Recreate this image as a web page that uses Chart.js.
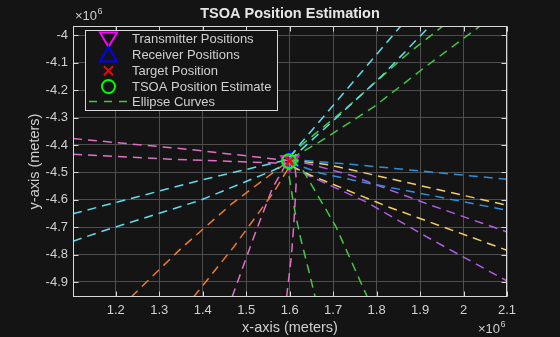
<!DOCTYPE html>
<html>
<head>
<meta charset="utf-8">
<title>TSOA Position Estimation</title>
<script src="https://cdn.jsdelivr.net/npm/chart.js@4/dist/chart.umd.min.js"></script>
<style>
  html, body { margin: 0; padding: 0; background: #141414; }
  canvas { display: block; }
</style>
</head>
<body>
<canvas id="grafico" width="560" height="337"></canvas>
<script>
// axis limits and ticks (meters)
const xLimits = [1.1015e6, 2.1e6];
const yLimits = [-4.955e6, -3.966e6];
const xTicks = [1.2e6, 1.3e6, 1.4e6, 1.5e6, 1.6e6, 1.7e6, 1.8e6, 1.9e6, 2.0e6, 2.1e6];
const yTicks = [-4.9e6, -4.8e6, -4.7e6, -4.6e6, -4.5e6, -4.4e6, -4.3e6, -4.2e6, -4.1e6, -4.0e6];

// transmitter / receiver / target / estimate (meters)
const txX = [1.600e6];
const txY = [-4.459e6];
const rxX = [1.600e6];
const rxY = [-4.461e6];
const targetX = [1.600e6];
const targetY = [-4.4595e6];
const estimateX = [1.5985e6];
const estimateY = [-4.4595e6];

// ellipse curve branches, in units of 1e6 m
const ellipseColor = [
  '#e070c4', '#e070c4', '#60dcee', '#60dcee', '#ee7a30', '#ee7a30', '#e070c4', '#e070c4',
  '#44c844', '#44c844', '#2f8fdc', '#f0d060', '#2f8fdc', '#b45ce6', '#f0d060', '#b45ce6',
  '#60dcee', '#60dcee', '#44c844', '#44c844'
];
const ellipseX = [
  [1.1015, 1.3714, 1.5998],
  [1.1015, 1.3253, 1.5675, 1.6067],
  [1.1015, 1.3945, 1.5998],
  [1.1015, 1.1638, 1.3945, 1.5629, 1.5998],
  [1.2353, 1.3523, 1.4676, 1.5791, 1.5998],
  [1.3790, 1.4713, 1.5636, 1.5998],
  [1.4676, 1.5175, 1.5599, 1.5929],
  [1.5929, 1.6037, 1.6097, 1.6153, 1.6114],
  [1.5998, 1.5987, 1.6056, 1.6137, 1.6252, 1.6436, 1.6586],
  [1.6044, 1.6321, 1.7059, 1.7786],
  [1.5998, 1.7405, 2.1],
  [1.5998, 1.6944, 2.1],
  [1.5998, 1.6713, 1.7636, 2.1],
  [1.5998, 1.6483, 1.7405, 1.9251, 2.1],
  [1.6044, 1.6483, 1.8259, 2.1],
  [1.6021, 1.6367, 1.7775, 1.9251, 2.1],
  [1.5998, 1.6252, 1.8559],
  [1.5998, 1.7013, 1.8097, 1.9228],
  [1.5998, 1.6176, 1.7290, 1.8674, 1.9528],
  [1.6044, 1.6713, 1.7936, 1.9020, 2.0382]
];
const ellipseY = [
  [-4.3767, -4.4168, -4.4577],
  [-4.4340, -4.4522, -4.4657, -4.4686],
  [-4.6511, -4.5289, -4.4522],
  [-4.7515, -4.7176, -4.6019, -4.4924, -4.4632],
  [-4.9548, -4.7745, -4.6139, -4.4803, -4.4595],
  [-4.9548, -4.7723, -4.5716, -4.4778],
  [-4.9548, -4.7358, -4.5592, -4.4668],
  [-4.9548, -4.8088, -4.6869, -4.5289, -4.4668],
  [-4.4595, -4.5143, -4.5836, -4.6566, -4.7406, -4.8574, -4.9548],
  [-4.4559, -4.4960, -4.6968, -4.9548],
  [-4.4522, -4.4705, -4.5256],
  [-4.4522, -4.4741, -4.6201],
  [-4.4632, -4.5033, -4.5343, -4.6384],
  [-4.4559, -4.4705, -4.5106, -4.6201, -4.7176],
  [-4.4778, -4.5106, -4.6256, -4.7844],
  [-4.4741, -4.5070, -4.6092, -4.7442, -4.8964],
  [-4.4449, -4.3949, -3.9657],
  [-4.4559, -4.3099, -4.1518, -3.9657],
  [-4.4449, -4.4132, -4.2672, -4.0726, -3.9657],
  [-4.4486, -4.3865, -4.2613, -4.1274, -3.9657]
];

const legendItems = ['Transmitter Positions', 'Receiver Positions', 'Target Position',
  'TSOA Position Estimate', 'Ellipse Curves'];

const FONT = '"Liberation Sans", Arial, sans-serif';
const TEXT = '#d0d0d0';
const BOX = '#d8d8d8';

function toPoints(xs, ys, k) {
  return xs.map((x, i) => ({ x: x * k, y: ys[i] * k }));
}

const datasets = [];

ellipseX.forEach((xs, i) => {
  datasets.push({
    label: 'Ellipse Curves',
    data: toPoints(xs, ellipseY[i], 1e6),
    showLine: true,
    borderColor: ellipseColor[i],
    borderWidth: 1.5,
    borderDash: [9, 6],
    pointRadius: 0,
    tension: 0,
    order: 2
  });
});

datasets.push({
  label: 'Transmitter Positions',
  data: toPoints(txX, txY, 1),
  pointStyle: 'triangle',
  rotation: 180,
  pointRadius: 10,
  borderColor: '#ff00ff',
  backgroundColor: 'rgba(0,0,0,0)',
  borderWidth: 2,
  order: 3
});
datasets.push({
  label: 'Receiver Positions',
  data: toPoints(rxX, rxY, 1),
  pointStyle: 'triangle',
  pointRadius: 10,
  borderColor: '#0000ff',
  backgroundColor: 'rgba(0,0,0,0)',
  borderWidth: 2,
  order: 3
});
datasets.push({
  label: 'Target Position',
  data: toPoints(targetX, targetY, 1),
  pointStyle: 'crossRot',
  pointRadius: 6,
  borderColor: '#ff0000',
  borderWidth: 2,
  order: 1
});
datasets.push({
  label: 'TSOA Position Estimate',
  data: toPoints(estimateX, estimateY, 1),
  pointStyle: 'circle',
  pointRadius: 7,
  borderColor: '#00ff00',
  backgroundColor: 'rgba(0,0,0,0)',
  borderWidth: 2,
  order: 0
});

function drawMarker(ctx, style, x, y) {
  ctx.beginPath();
  if (style === 'down') {
    ctx.moveTo(x - 8.5, y - 6.5); ctx.lineTo(x + 8.5, y - 6.5); ctx.lineTo(x, y + 8);
    ctx.closePath();
  } else if (style === 'up') {
    ctx.moveTo(x - 8.5, y + 6.5); ctx.lineTo(x + 8.5, y + 6.5); ctx.lineTo(x, y - 8);
    ctx.closePath();
  } else if (style === 'x') {
    ctx.moveTo(x - 4.5, y - 4.5); ctx.lineTo(x + 4.5, y + 4.5);
    ctx.moveTo(x + 4.5, y - 4.5); ctx.lineTo(x - 4.5, y + 4.5);
  } else if (style === 'o') {
    ctx.arc(x, y, 6.5, 0, Math.PI * 2);
  }
  ctx.stroke();
}

function drawExponent(ctx, x, baseline) {
  ctx.textAlign = 'left';
  ctx.textBaseline = 'alphabetic';
  ctx.font = '13px ' + FONT;
  ctx.fillText('×10', x, baseline);
  const w = ctx.measureText('×10').width;
  ctx.font = '9px ' + FONT;
  ctx.fillText('6', x + w + 0.5, baseline - 6);
}

const matlabLook = {
  id: 'matlabLook',
  beforeDraw(chart) {
    const ctx = chart.ctx;
    ctx.save();
    ctx.fillStyle = '#141414';
    ctx.fillRect(0, 0, chart.width, chart.height);
    ctx.restore();
  },
  afterDatasetsDraw(chart) {
    const { ctx, chartArea: a, scales } = chart;
    const L = Math.round(a.left) + 0.5, R = Math.round(a.right) - 0.5;
    const T = Math.round(a.top) + 0.5, B = Math.round(a.bottom) - 0.5;
    ctx.save();

    // axes box with inward ticks on all sides
    ctx.strokeStyle = BOX;
    ctx.lineWidth = 1;
    ctx.setLineDash([]);
    ctx.strokeRect(L, T, R - L, B - T);
    ctx.beginPath();
    xTicks.forEach(v => {
      const px = Math.round(scales.x.getPixelForValue(v)) + 0.5;
      ctx.moveTo(px, B); ctx.lineTo(px, B - 5);
      ctx.moveTo(px, T); ctx.lineTo(px, T + 5);
    });
    yTicks.forEach(v => {
      const py = Math.round(scales.y.getPixelForValue(v)) + 0.5;
      ctx.moveTo(L, py); ctx.lineTo(L + 5, py);
      ctx.moveTo(R, py); ctx.lineTo(R - 5, py);
    });
    ctx.stroke();

    // legend box
    const lx = 85.5, ly = 30.5, lw = 192, lh = 80;
    ctx.fillStyle = '#141414';
    ctx.fillRect(lx, ly, lw, lh);
    ctx.strokeStyle = BOX;
    ctx.strokeRect(lx, ly, lw, lh);

    const mx = 108.5, rowY = [39, 55, 70.7, 86.5, 101.5];
    ctx.lineWidth = 2;
    ctx.strokeStyle = '#ff00ff'; drawMarker(ctx, 'down', mx, rowY[0]);
    ctx.strokeStyle = '#0000ff'; drawMarker(ctx, 'up', mx, rowY[1]);
    ctx.strokeStyle = '#ff0000'; drawMarker(ctx, 'x', mx, rowY[2]);
    ctx.strokeStyle = '#00ff00'; drawMarker(ctx, 'o', mx, rowY[3]);
    ctx.strokeStyle = '#44c844';
    ctx.lineWidth = 1.5;
    ctx.setLineDash([8, 7]);
    ctx.beginPath();
    ctx.moveTo(89, rowY[4]); ctx.lineTo(129, rowY[4]);
    ctx.stroke();
    ctx.setLineDash([]);

    ctx.fillStyle = TEXT;
    ctx.font = '13px ' + FONT;
    ctx.textAlign = 'left';
    ctx.textBaseline = 'middle';
    legendItems.forEach((t, i) => ctx.fillText(t, 132, rowY[i] + 0.5));
    ctx.restore();
  },
  afterDraw(chart) {
    const { ctx, chartArea: a } = chart;
    const cx = (a.left + a.right) / 2, cy = (a.top + a.bottom) / 2;
    ctx.save();
    ctx.fillStyle = '#e6e6e6';
    ctx.font = 'bold 14.5px ' + FONT;
    ctx.textAlign = 'center';
    ctx.textBaseline = 'middle';
    ctx.fillText('TSOA Position Estimation', cx, 14);

    ctx.fillStyle = TEXT;
    ctx.font = '14.5px ' + FONT;
    ctx.fillText('x-axis (meters)', cx, 328);
    ctx.translate(35, cy);
    ctx.rotate(-Math.PI / 2);
    ctx.fillText('y-axis (meters)', 0, 0);
    ctx.setTransform(1, 0, 0, 1, 0, 0);

    drawExponent(ctx, 75, 20);
    drawExponent(ctx, 478, 333);
    ctx.restore();
  }
};

Chart.defaults.font.family = FONT;

new Chart(document.getElementById('grafico'), {
  type: 'scatter',
  data: { datasets: datasets },
  options: {
    responsive: false,
    animation: false,
    events: [],
    layout: { padding: { left: 0, top: 26, right: 53, bottom: 0 } },
    plugins: {
      legend: { display: false },
      title: { display: false },
      tooltip: { enabled: false }
    },
    scales: {
      x: {
        type: 'linear',
        min: xLimits[0],
        max: xLimits[1],
        afterBuildTicks: scale => { scale.ticks = xTicks.map(v => ({ value: v })); },
        afterFit: scale => { scale.height = 40; },
        grid: { color: '#4e4e4e', drawTicks: false },
        border: { display: false },
        ticks: {
          color: TEXT,
          font: { size: 13 },
          padding: 6,
          maxRotation: 0,
          callback: v => String(Math.round(v / 1e5) / 10)
        }
      },
      y: {
        type: 'linear',
        min: yLimits[0],
        max: yLimits[1],
        afterBuildTicks: scale => { scale.ticks = yTicks.map(v => ({ value: v })); },
        afterFit: scale => { scale.width = 73; },
        grid: { color: '#4e4e4e', drawTicks: false },
        border: { display: false },
        ticks: {
          color: TEXT,
          font: { size: 13 },
          padding: 5,
          callback: v => String(Math.round(v / 1e5) / 10)
        }
      }
    }
  },
  plugins: [matlabLook]
});
</script>
</body>
</html>
